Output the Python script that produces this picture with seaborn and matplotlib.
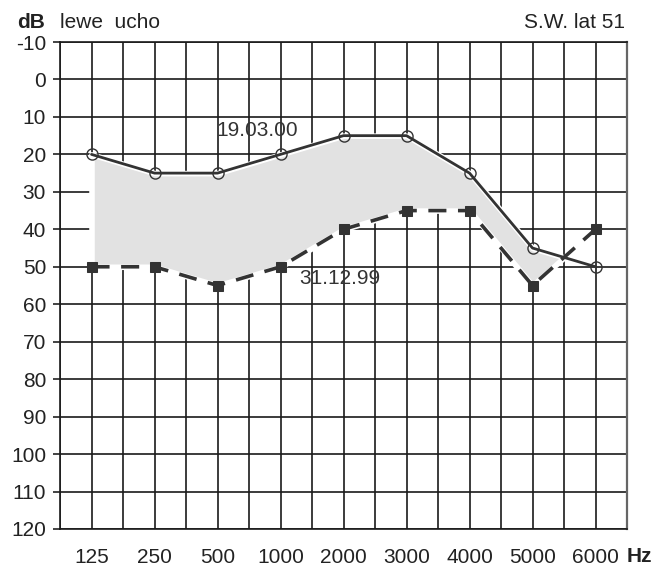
import pandas as pd
import seaborn as sns
import matplotlib.pyplot as plt
import numpy as np

# Audiogram values (dB HL) - left ear
freqs = ['125', '250', '500', '1000', '2000', '3000', '4000', '5000', '6000']
db_190300 = [20, 25, 25, 20, 15, 15, 25, 45, 50]
db_311299 = [50, 50, 55, 50, 40, 35, 35, 55, 40]
db_ticks = list(range(-10, 121, 10))

# every frequency sits on every second grid column
pos = np.arange(len(freqs)) * 2 + 1
df = pd.DataFrame({'pos': pos, 'a': db_190300, 'b': db_311299})

sns.set_style('white')
plt.rcParams['font.family'] = ['Liberation Sans', 'DejaVu Sans']

fig = plt.figure(figsize=(6.58, 5.67), dpi=100)
ax = fig.add_axes([60 / 658, 1 - 529 / 567, 567 / 658, 487 / 567])

# shaded band between the two measurements
ax.fill_between(df['pos'], df['a'], df['b'], where=df['a'] <= df['b'],
                interpolate=True, facecolor='#e2e2e2', edgecolor='white',
                linewidth=4, zorder=1)

sns.lineplot(data=df, x='pos', y='a', ax=ax, color='#333333', linewidth=2,
             marker='o', markersize=8, markerfacecolor='none',
             markeredgecolor='#333333', markeredgewidth=1, zorder=3)
sns.lineplot(data=df, x='pos', y='b', ax=ax, color='#333333', linewidth=2.6,
             marker='s', markersize=7, markerfacecolor='#333333',
             markeredgecolor='#333333', zorder=3)
ax.lines[-1].set_dashes((5, 3.2))

ax.set_xlim(0, 2 * len(freqs))
ax.set_ylim(120, -10)
ax.set_xticks(pos)
ax.set_xticklabels(freqs)
ax.set_xticks(np.arange(0, 2 * len(freqs) + 1), minor=True)
ax.set_yticks(db_ticks)
ax.set_yticklabels([str(v) for v in db_ticks])

ax.set_axisbelow(True)
ax.grid(which='both', color='#1a1a1a', linewidth=1.2)
ax.tick_params(axis='x', which='both', length=0, pad=14, labelsize=15,
               colors='#222222')
ax.tick_params(axis='y', length=5, width=1.2, pad=5, labelsize=15,
               colors='#222222', left=True)
ax.set_xlabel('')
ax.set_ylabel('')
for s in ['left', 'bottom', 'top']:
    ax.spines[s].set_color('#1a1a1a')
    ax.spines[s].set_linewidth(1.2)
ax.spines['right'].set_color('#666666')
ax.spines['right'].set_linewidth(1.6)

ax.text(4.95, 13.5, '19.03.00', fontsize=15, color='#333333', ha='left', va='center')
ax.text(7.6, 53, '31.12.99', fontsize=15, color='#333333', ha='left', va='center')

fig.text(17 / 658, 1 - 23 / 567, 'dB', fontsize=15, fontweight='bold',
         color='#222222', va='center')
fig.text(60 / 658, 1 - 23 / 567, 'lewe  ucho', fontsize=15, color='#222222',
         va='center')
fig.text(625 / 658, 1 - 23 / 567, 'S.W. lat 51', fontsize=15, color='#222222',
         va='center', ha='right')
fig.text(627 / 658, 1 - 557 / 567, 'Hz', fontsize=15, fontweight='bold',
         color='#222222', va='center')

plt.savefig('out.png', dpi=100)
